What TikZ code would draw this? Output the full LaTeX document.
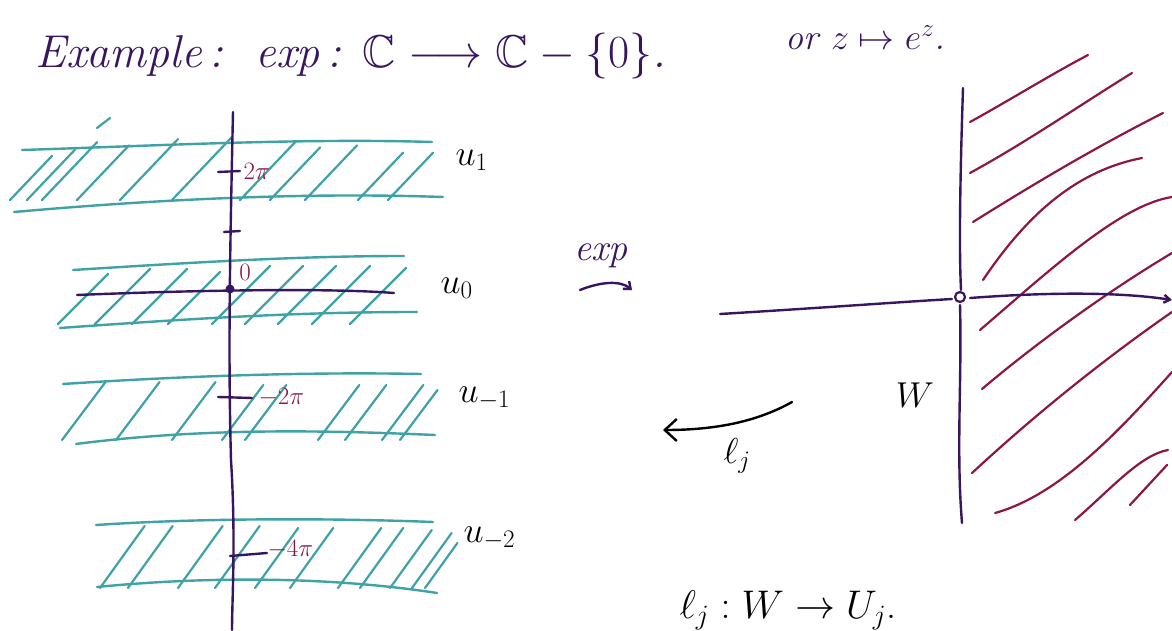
\RequirePackage{fix-cm}
\documentclass[tikz,border=0pt]{standalone}
\usepackage{amssymb}
\DeclareFontFamily{U}{msb}{}
\DeclareFontShape{U}{msb}{m}{n}{<-> msbm10}{}
\usetikzlibrary{arrows.meta}
\definecolor{purp}{RGB}{55,22,95}
\definecolor{tealc}{RGB}{62,162,166}
\definecolor{maro}{RGB}{140,22,72}
\tikzset{
  ax/.style={purp,line width=2.4pt,line cap=round},
  strip/.style={tealc,line width=2.4pt,line cap=round},
  hatchT/.style={tealc,line width=2.2pt,line cap=round},
  hatchM/.style={maro,line width=2.2pt,line cap=round},
  lab/.style={font=\fontsize{36}{40}\selectfont},
  tick/.style={maro,font=\fontsize{25}{28}\selectfont},
}
\begin{document}
\begin{tikzpicture}[x=1pt,y=-1pt]
\useasboundingbox[fill=white] (0,0) rectangle (1172,631);

% title
\node[purp,anchor=base west,font=\fontsize{46}{50}\selectfont\itshape] (title) at (32,68)
  {Example\,:\ \ exp\,: $\mathbb{C}\longrightarrow\mathbb{C}-\{0\}$.};
\node[purp,anchor=base west,font=\fontsize{36}{40}\selectfont\itshape] (title2) at (782,50)
  {or $z\mapsto e^{z}$.};

% ---------- left plane ----------
% strips
\draw[strip] (22,150) .. controls (150,146) and (300,138) .. (432,142);
\draw[strip] (14,212) .. controls (150,200) and (300,192) .. (443,197);
\draw[strip] (73,270) .. controls (200,262) and (300,256) .. (404,256);
\draw[strip] (60,328) .. controls (200,318) and (300,312) .. (417,312);
\draw[strip] (63,384) .. controls (200,375) and (320,372) .. (421,374);
\draw[strip] (76,444) .. controls (200,428) and (320,430) .. (435,435);
\draw[strip] (96,525) .. controls (200,518) and (330,518) .. (433,522);
\draw[strip] (97,587) .. controls (220,575) and (340,578) .. (437,593);
\draw[hatchT] (97,128) -- (110,118);

% hatches U1
\foreach \x/\d in {10/42,27/48,42/55,77/52,120/58,172/60,240/55,270/50,305/52,358/45,388/45}
  \draw[hatchT] (\x,200) -- ++(\d,-1.05*\d);
% hatches U0
\foreach \x/\d in {58/50,95/55,132/55,168/52,212/58,245/58,278/58,312/58,350/56}
  \draw[hatchT] (\x,324) -- ++(\d,-\d);
% hatches U-1
\foreach \x/\d in {62/58,116/58,172/58,222/55,245/55,318/55,345/55,382/55,400/50}
  \draw[hatchT] (\x,440) -- ++(0.75*\d,-\d);
% hatches U-2
\foreach \x/\d in {100/62,128/62,178/62,215/62,255/60,290/60,338/60,360/60,390/58,412/55,425/45}
  \draw[hatchT] (\x,588) -- ++(0.72*\d,-\d);

% vertical axis
\draw[ax] (233,112) .. controls (230,250) and (228,350) .. (231,460)
          .. controls (236,540) and (232,600) .. (232,630);
% real axis
\draw[ax] (77,295) .. controls (200,290) and (330,288) .. (394,293);
\fill[purp] (230,289) circle (4.5);
\node[tick] (zero) at (245,272) {0};
% ticks
\draw[ax] (218,172) -- (240,171);
\node[tick,anchor=west] (l2pi) at (240,171) {$2\pi$};
\draw[ax] (224,232) -- (240,231);
\draw[ax] (218,397) -- (252,398);
\node[tick,anchor=west] (lm2pi) at (255,397) {$-2\pi$};
\draw[ax] (230,556) -- (267,553);
\node[tick,anchor=west] (lm4pi) at (264,549) {$-4\pi$};

% strip labels
\node[lab,anchor=west] (u1) at (452,160) {$u_1$};
\node[lab,anchor=west] (u0) at (437,288) {$u_0$};
\node[lab,anchor=west] (um1) at (455,398) {$u_{-1}$};
\node[lab,anchor=west] (um2) at (460,538) {$u_{-2}$};

% ---------- arrows between planes ----------
\node[purp,font=\fontsize{38}{40}\selectfont\itshape] (exp) at (601,256) {exp};
\coordinate (e1) at (580,290);
\coordinate (e2) at (632,290);
\draw[ax,-{Straight Barb[length=6pt,width=10pt]}] (e1) .. controls (600,282) and (620,280) .. (e2);

\coordinate (l1) at (792,402);
\coordinate (l2) at (663,430);
\draw[black,line width=2.4pt,line cap=round,-{Straight Barb[length=12pt,width=22pt]}]
  (l1) .. controls (760,420) and (720,430) .. (l2);
\node[lab] (lj) at (737,456) {$\ell_j$};

% ---------- right plane ----------
\draw[hatchM] (970,122) .. controls (1010,100) and (1050,75) .. (1088,55);
\draw[hatchM] (970,173) .. controls (1030,140) and (1080,105) .. (1132,73);
\draw[hatchM] (973,222) .. controls (1040,180) and (1100,145) .. (1163,113);
\draw[hatchM] (983,280) .. controls (1030,210) and (1080,170) .. (1142,158);
\draw[hatchM] (980,330) .. controls (1050,270) and (1120,205) .. (1172,197);
\draw[hatchM] (982,389) .. controls (1040,340) and (1110,290) .. (1172,253);
\draw[hatchM] (972,473) .. controls (1040,410) and (1110,355) .. (1172,312);
\draw[hatchM] (995,513) .. controls (1060,495) and (1120,430) .. (1172,372);
\draw[hatchM] (1075,520) .. controls (1110,490) and (1140,455) .. (1168,450);
\draw[hatchM] (1167,465) -- (1130,505);
\draw[ax] (963,88) .. controls (960,180) and (959,250) .. (961,290);
\draw[ax] (960,305) .. controls (962,380) and (956,450) .. (962,523);
\draw[ax] (720,314) .. controls (820,308) and (900,302) .. (952,299);
\draw[ax,-{Straight Barb[length=6pt,width=8pt]}] (970,298) .. controls (1050,292) and (1120,292) .. (1172,300);
\draw[purp,line width=2.2pt,fill=white] (960,297) circle (5);
\node[lab] (W) at (915,395) {$W$};

% bottom text
\node[lab,anchor=base west,font=\fontsize{40}{44}\selectfont] (ldef) at (676,618) {$\ell_j : W\to U_j$.};
\end{tikzpicture}
\end{document}
